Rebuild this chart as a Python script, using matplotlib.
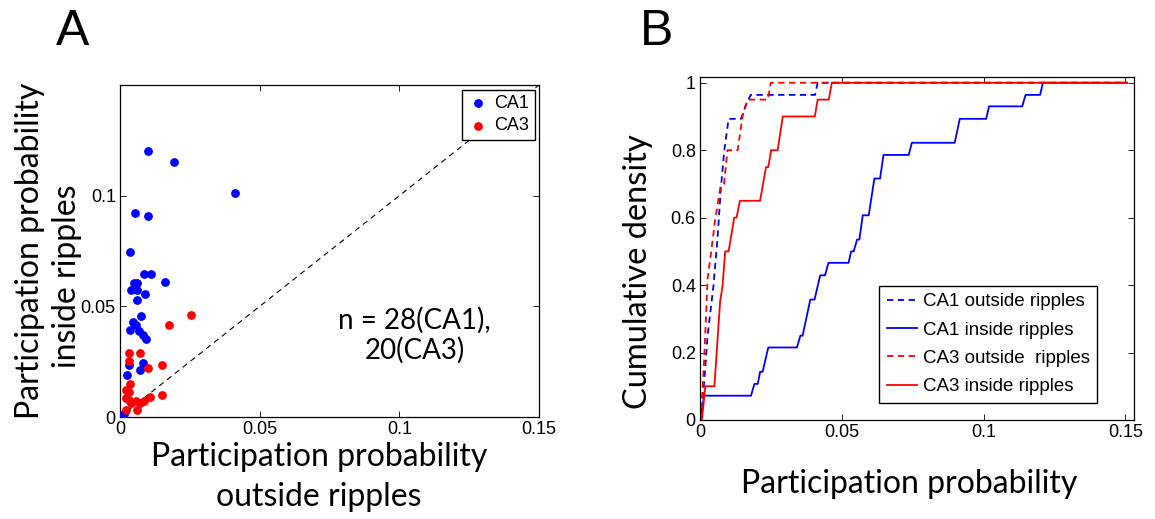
import matplotlib
matplotlib.use("Agg")
import matplotlib.pyplot as plt

# Panel A: participation probability per neuron (outside, inside ripples)
ca1_outside = [0.0099, 0.0194, 0.0412, 0.0054, 0.0101, 0.0036, 0.0086, 0.0110,
               0.0051, 0.0060, 0.0161, 0.0041, 0.0062, 0.0088, 0.0060, 0.0075,
               0.0048, 0.0056, 0.0036, 0.0067, 0.0081, 0.0092, 0.0031, 0.0082,
               0.0026, 0.0073, 0.0015, 0.0010]
ca1_inside = [0.1204, 0.1150, 0.1011, 0.0920, 0.0909, 0.0746, 0.0644, 0.0644,
              0.0607, 0.0607, 0.0610, 0.0573, 0.0574, 0.0557, 0.0530, 0.0458,
              0.0429, 0.0415, 0.0394, 0.0387, 0.0372, 0.0353, 0.0236, 0.0242,
              0.0192, 0.0211, 0.0015, 0.0008]
ca3_outside = [0.0255, 0.0174, 0.0031, 0.0073, 0.0031, 0.0152, 0.0100, 0.0035,
               0.0020, 0.0033, 0.0149, 0.0107, 0.0023, 0.0033, 0.0040, 0.0056,
               0.0071, 0.0085, 0.0023, 0.0062]
ca3_inside = [0.0462, 0.0414, 0.0290, 0.0289, 0.0252, 0.0233, 0.0221, 0.0147,
              0.0124, 0.0113, 0.0100, 0.0091, 0.0086, 0.0076, 0.0063, 0.0073,
              0.0065, 0.0073, 0.0030, 0.0030]

# Panel B: cumulative density curves (vertices)
ca1_out_x = [0, 0.0015, 0.0027, 0.0048, 0.0062, 0.0074, 0.0086, 0.0101, 0.0145,
             0.0160, 0.0179, 0.0406, 0.0415, 0.1506]
ca1_out_y = [0, 0.11, 0.25, 0.40, 0.54, 0.69, 0.80, 0.893, 0.893, 0.93, 0.964,
             0.964, 1.0, 1.0]
ca1_in_x = [0, 0.0015, 0.0180, 0.0192, 0.0204, 0.0212, 0.0221, 0.0241, 0.0342,
            0.0354, 0.0362, 0.0389, 0.0404, 0.0424, 0.0441, 0.0453, 0.0524,
            0.0533, 0.0542, 0.0554, 0.0562, 0.0574, 0.0595, 0.0615, 0.0635,
            0.0647, 0.0736, 0.0747, 0.0898, 0.0916, 0.1009, 0.1019, 0.1136,
            0.1148, 0.1199, 0.1209, 0.1506]
ca1_in_y = [0, 0.072, 0.072, 0.107, 0.107, 0.143, 0.143, 0.215, 0.215, 0.25,
            0.25, 0.357, 0.357, 0.429, 0.429, 0.466, 0.466, 0.50, 0.50, 0.535,
            0.535, 0.607, 0.607, 0.716, 0.716, 0.786, 0.786, 0.822, 0.822,
            0.893, 0.893, 0.93, 0.93, 0.964, 0.964, 1.0, 1.0]
ca3_out_x = [0.0003, 0.0015, 0.0027, 0.0040, 0.0053, 0.0072, 0.0085, 0.0097,
             0.0133, 0.0150, 0.0168, 0.0239, 0.0250, 0.1506]
ca3_out_y = [0, 0.18, 0.42, 0.50, 0.59, 0.69, 0.70, 0.80, 0.80, 0.90, 0.95,
             0.95, 1.0, 1.0]
ca3_in_x = [0.0007, 0.0019, 0.0051, 0.0071, 0.0080, 0.0089, 0.0101, 0.0121,
            0.0129, 0.0141, 0.0212, 0.0233, 0.0241, 0.0251, 0.0274, 0.0292,
            0.0405, 0.0415, 0.0454, 0.0465, 0.1506]
ca3_in_y = [0, 0.10, 0.10, 0.35, 0.40, 0.50, 0.50, 0.60, 0.60, 0.65, 0.65, 0.75,
            0.75, 0.80, 0.80, 0.90, 0.90, 0.95, 0.95, 1.0, 1.0]

tick_font = "Liberation Sans"
label_font = "Lato"

fig = plt.figure(figsize=(11.55, 5.19), dpi=100)

def style_axes(ax):
    ax.tick_params(direction="in", top=True, right=True, length=4, width=0.6,
                   labelsize=13, pad=3)
    for lab in ax.get_xticklabels() + ax.get_yticklabels():
        lab.set_fontfamily(tick_font)
    for s in ax.spines.values():
        s.set_linewidth(0.9)

# ---- Panel A ----
axA = fig.add_axes([0.1039, 0.1965, 0.3628, 0.6397])
axA.plot([0, 0.15], [0, 0.15], "k--", lw=0.8, dashes=(5, 4))
axA.scatter(ca1_outside, ca1_inside, s=28, color="blue", label="CA1", zorder=3)
axA.scatter(ca3_outside, ca3_inside, s=28, color="red", label="CA3", zorder=3)
axA.set_xlim(0, 0.15)
axA.set_ylim(0, 0.15)
axA.set_xticks([0, 0.05, 0.1, 0.15])
axA.set_xticklabels(["0", "0.05", "0.1", "0.15"])
axA.set_yticks([0, 0.05, 0.1])
axA.set_yticklabels(["0", "0.05", "0.1"])
style_axes(axA)
legA = axA.legend(loc="upper right", prop={"family": tick_font, "size": 13},
                  fancybox=False, edgecolor="black", framealpha=1,
                  handletextpad=0.3, handlelength=1.2, borderpad=0.3,
                  labelspacing=0.3, borderaxespad=0.25)
legA.get_frame().set_linewidth(1.0)
axA.text(0.1055, 0.037, "n = 28(CA1),\n20(CA3)", ha="center", va="center",
         fontsize=20, family=label_font, linespacing=1.15)

fig.text(319 / 1155, 1 - 457 / 519, "Participation probability", ha="center",
         va="center", fontsize=23, family=label_font)
fig.text(319 / 1155, 1 - 497 / 519, "outside ripples", ha="center",
         va="center", fontsize=23, family=label_font)
fig.text(30 / 1155, 1 - 251 / 519, "Participation probability", ha="center",
         va="center", rotation=90, fontsize=23, family=label_font)
fig.text(67 / 1155, 1 - 276 / 519, "inside ripples", ha="center",
         va="center", rotation=90, fontsize=23, family=label_font)
fig.text(73 / 1155, 1 - 32 / 519, "A", ha="center", va="center",
         fontsize=36, family=tick_font)

# ---- Panel B ----
axB = fig.add_axes([0.606, 0.1908, 0.3758, 0.6608])
axB.plot(ca1_out_x, ca1_out_y, color="blue", lw=1.3, ls=(0, (3.5, 2.5)),
         label="CA1 outside ripples")
axB.plot(ca1_in_x, ca1_in_y, color="blue", lw=1.3, label="CA1 inside ripples")
axB.plot(ca3_out_x, ca3_out_y, color="red", lw=1.3, ls=(0, (3.5, 2.5)),
         label="CA3 outside  ripples")
axB.plot(ca3_in_x, ca3_in_y, color="red", lw=1.3, label="CA3 inside ripples")
axB.set_xlim(0, 0.153)
axB.set_ylim(0, 1.017)
axB.set_xticks([0, 0.05, 0.1, 0.15])
axB.set_xticklabels(["0", "0.05", "0.1", "0.15"])
axB.set_yticks([0, 0.2, 0.4, 0.6, 0.8, 1])
axB.set_yticklabels(["0", "0.2", "0.4", "0.6", "0.8", "1"])
style_axes(axB)
legB = axB.legend(loc="lower right", bbox_to_anchor=(0.915, 0.05),
                  borderaxespad=0, prop={"family": tick_font, "size": 13.5},
                  fancybox=False, edgecolor="black", framealpha=1,
                  handlelength=1.6, handletextpad=0.3, borderpad=0.4,
                  labelspacing=0.6)
legB.get_frame().set_linewidth(1.0)

fig.text(909 / 1155, 1 - 484 / 519, "Participation probability", ha="center",
         va="center", fontsize=23, family=label_font)
fig.text(638 / 1155, 1 - 272 / 519, "Cumulative density", ha="center",
         va="center", rotation=90, fontsize=23.5, family=label_font)
fig.text(657 / 1155, 1 - 32 / 519, "B", ha="center", va="center",
         fontsize=36, family=tick_font)

fig.savefig("out.png", dpi=100)
